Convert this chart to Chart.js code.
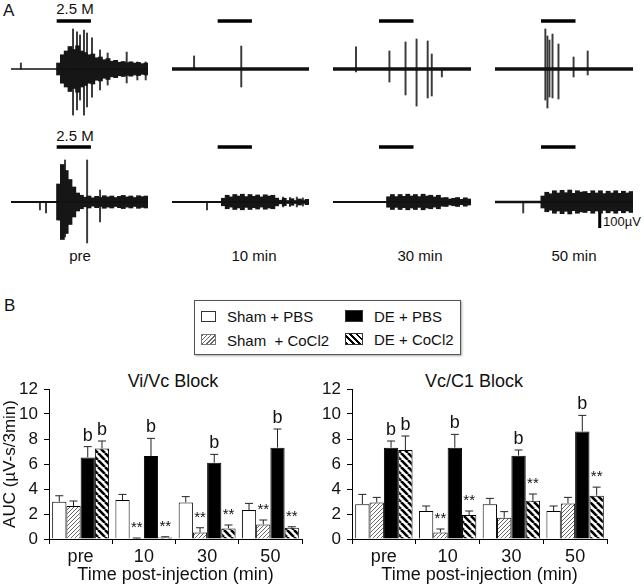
<!DOCTYPE html>
<html lang="en">
<head>
<meta charset="UTF-8">
<title>Vi/Vc and Vc/C1 block</title>
<script src="https://cdn.jsdelivr.net/npm/chart.js"></script>
<style>
  body { margin: 0; background: #fff; font-family: "Liberation Sans", Arial, sans-serif; color: #111; }
  #fig { position: relative; width: 644px; height: 587px; overflow: hidden; }
  #fig canvas { position: absolute; }
  .t { position: absolute; white-space: nowrap; line-height: 1; transform: translate(-50%, -50%); }
  .l { position: absolute; white-space: nowrap; line-height: 1; transform: translateY(-50%); }
  #legend { position: absolute; left: 194px; top: 300px; width: 265px; height: 53px;
            border: 1px solid #555; box-shadow: 1px 1px 2px #aaa; }
  .ico { position: absolute; box-sizing: border-box; border: 1px solid #333; }
</style>
</head>
<body>
<div id="fig">
  <div class="l" style="left:3px;top:10px;font-size:17px">A</div>
  <div class="t" style="left:75px;top:8px;font-size:15px">2.5 M</div>
  <div class="t" style="left:75px;top:135px;font-size:15px">2.5 M</div>
  <div class="t" style="left:80px;top:255px;font-size:15px">pre</div>
  <div class="t" style="left:254px;top:255px;font-size:15px">10 min</div>
  <div class="t" style="left:420px;top:255px;font-size:15px">30 min</div>
  <div class="t" style="left:574px;top:255px;font-size:15px">50 min</div>
  <div class="l" style="left:603px;top:221px;font-size:13px">100µV</div>

  <canvas id="a1" width="137" height="120" style="left:11px;top:9px"></canvas>
  <canvas id="a2" width="137" height="120" style="left:172px;top:9px"></canvas>
  <canvas id="a3" width="138" height="120" style="left:333px;top:9px"></canvas>
  <canvas id="a4" width="138" height="120" style="left:495px;top:9px"></canvas>
  <canvas id="b1" width="137" height="120" style="left:11px;top:142px"></canvas>
  <canvas id="b2" width="137" height="120" style="left:172px;top:142px"></canvas>
  <canvas id="b3" width="138" height="120" style="left:333px;top:142px"></canvas>
  <canvas id="b4" width="138" height="120" style="left:495px;top:142px"></canvas>

  <div class="l" style="left:4px;top:305px;font-size:17px">B</div>
  <div id="legend">
    <div class="ico" style="left:6px;top:10px;width:15px;height:11px;background:#fff"></div>
    <div class="l" style="left:32px;top:15px;font-size:15px">Sham + PBS</div>
    <div class="ico" style="left:150px;top:9px;width:18px;height:12px;background:#000"></div>
    <div class="l" style="left:179px;top:15px;font-size:15px">DE + PBS</div>
    <div class="ico" style="left:6px;top:33px;width:15px;height:11px;border-color:#777;background:repeating-linear-gradient(135deg,#666 0 1px,#fff 1px 3px)"></div>
    <div class="l" style="left:32px;top:39px;font-size:15px">Sham&nbsp; + CoCl2</div>
    <div class="ico" style="left:150px;top:32px;width:18px;height:12px;background:repeating-linear-gradient(45deg,#000 0 2px,#fff 2px 4.5px)"></div>
    <div class="l" style="left:179px;top:38px;font-size:15px">DE + CoCl2</div>
  </div>
  <div class="t" style="left:173px;top:381px;font-size:18px">Vi/Vc Block</div>
  <div class="t" style="left:474px;top:381px;font-size:18px">Vc/C1 Block</div>

  <canvas id="vi" width="310" height="218" style="left:0px;top:369px"></canvas>
  <canvas id="vc" width="310" height="218" style="left:310px;top:369px"></canvas>
</div>

<script>
// ---- panel A: recordings, time in s (3 min window), amplitude in µV ----
// spikes: [time, low, high]; bursts: envelope half-width, one value per 5 s bin
const traceSeconds = 180;
const binSeconds = 5;
const stimOn = 60, stimOff = 105;

const preTopNoise = 3;
const preTopSpikes = [[13,0,40],[81.5,-307,267],[86.7,-273,247],[90.7,-207,227],[95.9,-307,260],[99.9,-253,240],
  [106.4,-187,207],[117,-140,127],[127,-107,107],[152,-93,113],[166,-73,47],[177,-73,47]];
const preTopBurstStart = 60;
const preTopBurst = [40,95,120,150,130,155,120,110,95,100,75,80,62,70,52,58,45,50,42,48,40,44,36,40];

const min10TopNoise = 9;
const min10TopSpikes = [[29,0,87],[91,-120,153]];

const min30TopNoise = 9;
const min30TopSpikes = [[30,-20,147],[73.6,-87,120],[94.6,-173,180],[109,-247,200],[123.5,-193,187],[128.8,-180,100],[142,-53,0]];

const min50TopNoise = 9;
const min50TopSpikes = [[65.7,-207,267],[68.4,-260,220],[71,-187,193],[75,-193,233],[82.8,-200,167],[102.5,-53,80],[120.9,-40,120]];

const preBotNoise = 4;
const preBotSpikes = [[38,-53,0],[46,-73,0],[63,-120,93],[71,-233,280],[100,-273,280],[117,-133,80]];
const preBotBurstStart = 60;
const preBotBurst = [120,250,210,150,100,60,45,32,40,28,38,30,42,34,40,30,38,44,34,40,30,42,36,40];

const min10BotNoise = 5;
const min10BotSpikes = [[46,-53,0],[146,-33,33],[155,-30,30],[164,-33,33],[172,-27,27]];
const min10BotBurstStart = 65;
const min10BotBurst = [25,45,34,50,40,52,36,50,38,47,34,48,40,45,26,12,25,10,22,10,20,10,18];

const min30BotNoise = 5;
const min30BotSpikes = [];
const min30BotBurstStart = 70;
const min30BotBurst = [35,50,36,50,38,52,40,50,36,52,40,45,34,45,28,30,20,25,30,18,28,20];

const min50BotNoise = 6;
const min50BotSpikes = [[36.8,-73,0]];
const min50BotBurstStart = 60;
const min50BotBurst = [40,65,55,75,60,78,62,80,58,75,66,70,58,75,60,75,56,72,60,75,58,72,60,70];

const scaleBarUV = 100;
const scaleBarTime = 136.6, scaleBarTop = -73;

// ---- panel B: AUC (µV-s/3min), mean and SEM ----
const groups = ['pre', '10', '30', '50'];
const seriesNames = ['Sham + PBS', 'Sham + CoCl2', 'DE + PBS', 'DE + CoCl2'];

const viShamPbs = [2.98, 3.12, 2.93, 2.32];
const viShamPbsSem = [0.48, 0.45, 0.46, 0.53];
const viShamCo = [2.64, 0.05, 0.53, 1.17];
const viShamCoSem = [0.40, 0.03, 0.37, 0.35];
const viDePbs = [6.53, 6.64, 6.11, 7.31];
const viDePbsSem = [0.86, 1.41, 0.66, 1.49];
const viDeCo = [7.25, 0.12, 0.85, 0.90];
const viDeCoSem = [0.59, 0.06, 0.27, 0.08];

const vcShamPbs = [2.78, 2.24, 2.78, 2.24];
const vcShamPbsSem = [0.79, 0.40, 0.47, 0.40];
const vcShamCo = [2.93, 0.53, 1.71, 2.85];
const vcShamCoSem = [0.40, 0.27, 0.48, 0.48];
const vcDePbs = [7.31, 7.31, 6.67, 8.61];
const vcDePbsSem = [0.53, 1.06, 0.45, 1.28];
const vcDeCo = [7.12, 1.92, 3.07, 3.47];
const vcDeCoSem = [1.12, 0.32, 0.53, 0.68];

// significance marks
const viMarks = [['', '', '', ''], ['', '**', '**', '**'], ['b', 'b', 'b', 'b'], ['b', '**', '**', '**']];
const vcMarks = [['', '', '', ''], ['', '**', '', ''], ['b', 'b', 'b', 'b'], ['b', '**', '**', '**']];

// ---------------------------------------------------------------

function drawTrace(id, noise, spikes, burst, burstStart, stimLevel, extra) {
  const cv = document.getElementById(id);
  const pxPerSec = cv.width / traceSeconds;
  const datasets = [
    { type: 'bar', data: [{ x: traceSeconds / 2, y: [-noise, noise] }], backgroundColor: '#111',
      barThickness: cv.width, grouped: false },
    { type: 'bar', data: (burst || []).map((a, i) => ({ x: burstStart + i * binSeconds + binSeconds / 2, y: [-a, a] })),
      backgroundColor: '#161616', barThickness: binSeconds * pxPerSec + 0.3, grouped: false },
    { type: 'bar', data: spikes.map(s => ({ x: s[0], y: [s[1], s[2]] })),
      backgroundColor: '#3a3a3a', barThickness: 1.3, grouped: false },
    { type: 'line', data: [{ x: stimOn, y: stimLevel }, { x: stimOff, y: stimLevel }],
      borderColor: '#000', borderWidth: 3.5, pointRadius: 0, borderCapStyle: 'butt' }
  ];
  if (extra) datasets.push(extra);
  new Chart(cv, {
    type: 'bar',
    data: { datasets: datasets },
    options: {
      responsive: false, animation: false, devicePixelRatio: 1,
      layout: { padding: 0 },
      plugins: { legend: { display: false }, tooltip: { enabled: false } },
      scales: {
        x: { type: 'linear', min: 0, max: traceSeconds, offset: false, display: false },
        y: { min: -400, max: 400, display: false }
      }
    }
  });
}

drawTrace('a1', preTopNoise, preTopSpikes, preTopBurst, preTopBurstStart, 320);
drawTrace('a2', min10TopNoise, min10TopSpikes, null, 0, 320);
drawTrace('a3', min30TopNoise, min30TopSpikes, null, 0, 320);
drawTrace('a4', min50TopNoise, min50TopSpikes, null, 0, 320);
drawTrace('b1', preBotNoise, preBotSpikes, preBotBurst, preBotBurstStart, 367);
drawTrace('b2', min10BotNoise, min10BotSpikes, min10BotBurst, min10BotBurstStart, 367);
drawTrace('b3', min30BotNoise, min30BotSpikes, min30BotBurst, min30BotBurstStart, 367);
drawTrace('b4', min50BotNoise, min50BotSpikes, min50BotBurst, min50BotBurstStart, 367, {
  type: 'line', data: [{ x: scaleBarTime, y: scaleBarTop }, { x: scaleBarTime, y: scaleBarTop - scaleBarUV }],
  borderColor: '#000', borderWidth: 3, pointRadius: 0, borderCapStyle: 'butt'
});

// ---- bar charts ----
function hatch(size, lw, color, dir) {
  const c = document.createElement('canvas');
  c.width = c.height = size;
  const g = c.getContext('2d');
  g.fillStyle = '#fff';
  g.fillRect(0, 0, size, size);
  g.strokeStyle = color;
  g.lineWidth = lw;
  for (let k = -1; k <= 1; k++) {
    g.beginPath();
    if (dir === '/') { g.moveTo(k * size, size); g.lineTo(k * size + size, 0); }
    else { g.moveTo(k * size, 0); g.lineTo(k * size + size, size); }
    g.stroke();
  }
  return g.createPattern(c, 'repeat');
}

const fills = ['#fff', hatch(4, 1, '#666', '/'), '#000', hatch(7, 2.6, '#000', '\\')];

const errorPlugin = {
  id: 'errs',
  afterDatasetsDraw(chart) {
    const ctx = chart.ctx;
    const y = chart.scales.y;
    const sems = chart.options.plugins.errs.sems;
    const marks = chart.options.plugins.errs.marks;
    chart.data.datasets.forEach((ds, i) => {
      chart.getDatasetMeta(i).data.forEach((bar, j) => {
        const top = y.getPixelForValue(ds.data[j] + sems[i][j]);
        ctx.save();
        ctx.strokeStyle = '#222';
        ctx.lineWidth = 1;
        ctx.beginPath();
        ctx.moveTo(bar.x, bar.y);
        ctx.lineTo(bar.x, top);
        ctx.moveTo(bar.x - 4, top);
        ctx.lineTo(bar.x + 4, top);
        ctx.stroke();
        const m = marks[i][j];
        if (m) {
          ctx.fillStyle = '#111';
          ctx.textAlign = 'center';
          ctx.textBaseline = 'alphabetic';
          ctx.font = (m === 'b' ? '18px' : '15px') + ' "Liberation Sans", Arial, sans-serif';
          ctx.fillText(m, bar.x, top - 6);
        }
        ctx.restore();
      });
    });
  }
};

function barChart(id, values, sems, marks, yTitle, yWidth, padRight) {
  new Chart(document.getElementById(id), {
    type: 'bar',
    data: {
      labels: groups,
      datasets: values.map((v, i) => ({
        label: seriesNames[i], data: v, backgroundColor: fills[i],
        borderColor: '#000', borderWidth: 1
      }))
    },
    options: {
      responsive: false, animation: false, devicePixelRatio: 1,
      layout: { padding: { top: 20, right: padRight, bottom: 0, left: 0 } },
      datasets: { bar: { categoryPercentage: 0.9, barPercentage: 1 } },
      plugins: { legend: { display: false }, tooltip: { enabled: false }, errs: { sems: sems, marks: marks } },
      scales: {
        x: {
          grid: { drawOnChartArea: false, offset: true, tickLength: 5, color: '#000' },
          border: { color: '#000' },
          ticks: { font: { size: 18, family: 'Liberation Sans' }, color: '#111', padding: 2 },
          title: { display: true, text: 'Time post-injection (min)', font: { size: 18, family: 'Liberation Sans' },
                   color: '#111', padding: { top: 0, bottom: 1 } },
          afterFit(s) { s.height = 48; }
        },
        y: {
          min: 0, max: 12,
          ticks: { stepSize: 2, font: { size: 17, family: 'Liberation Sans' }, color: '#111', padding: 6 },
          grid: { drawOnChartArea: false, tickLength: 5, color: '#000' },
          border: { color: '#000' },
          title: { display: !!yTitle, text: yTitle, font: { size: 17, family: 'Liberation Sans' },
                   color: '#111', padding: 0 },
          afterFit(s) { s.width = yWidth; }
        }
      }
    },
    plugins: [errorPlugin]
  });
}

barChart('vi', [viShamPbs, viShamCo, viDePbs, viDeCo], [viShamPbsSem, viShamCoSem, viDePbsSem, viDeCoSem],
  viMarks, 'AUC (µV-s/3min)', 49, 8);
barChart('vc', [vcShamPbs, vcShamCo, vcDePbs, vcDeCo], [vcShamPbsSem, vcShamCoSem, vcDePbsSem, vcDeCoSem],
  vcMarks, '', 42, 13);
</script>
</body>
</html>
